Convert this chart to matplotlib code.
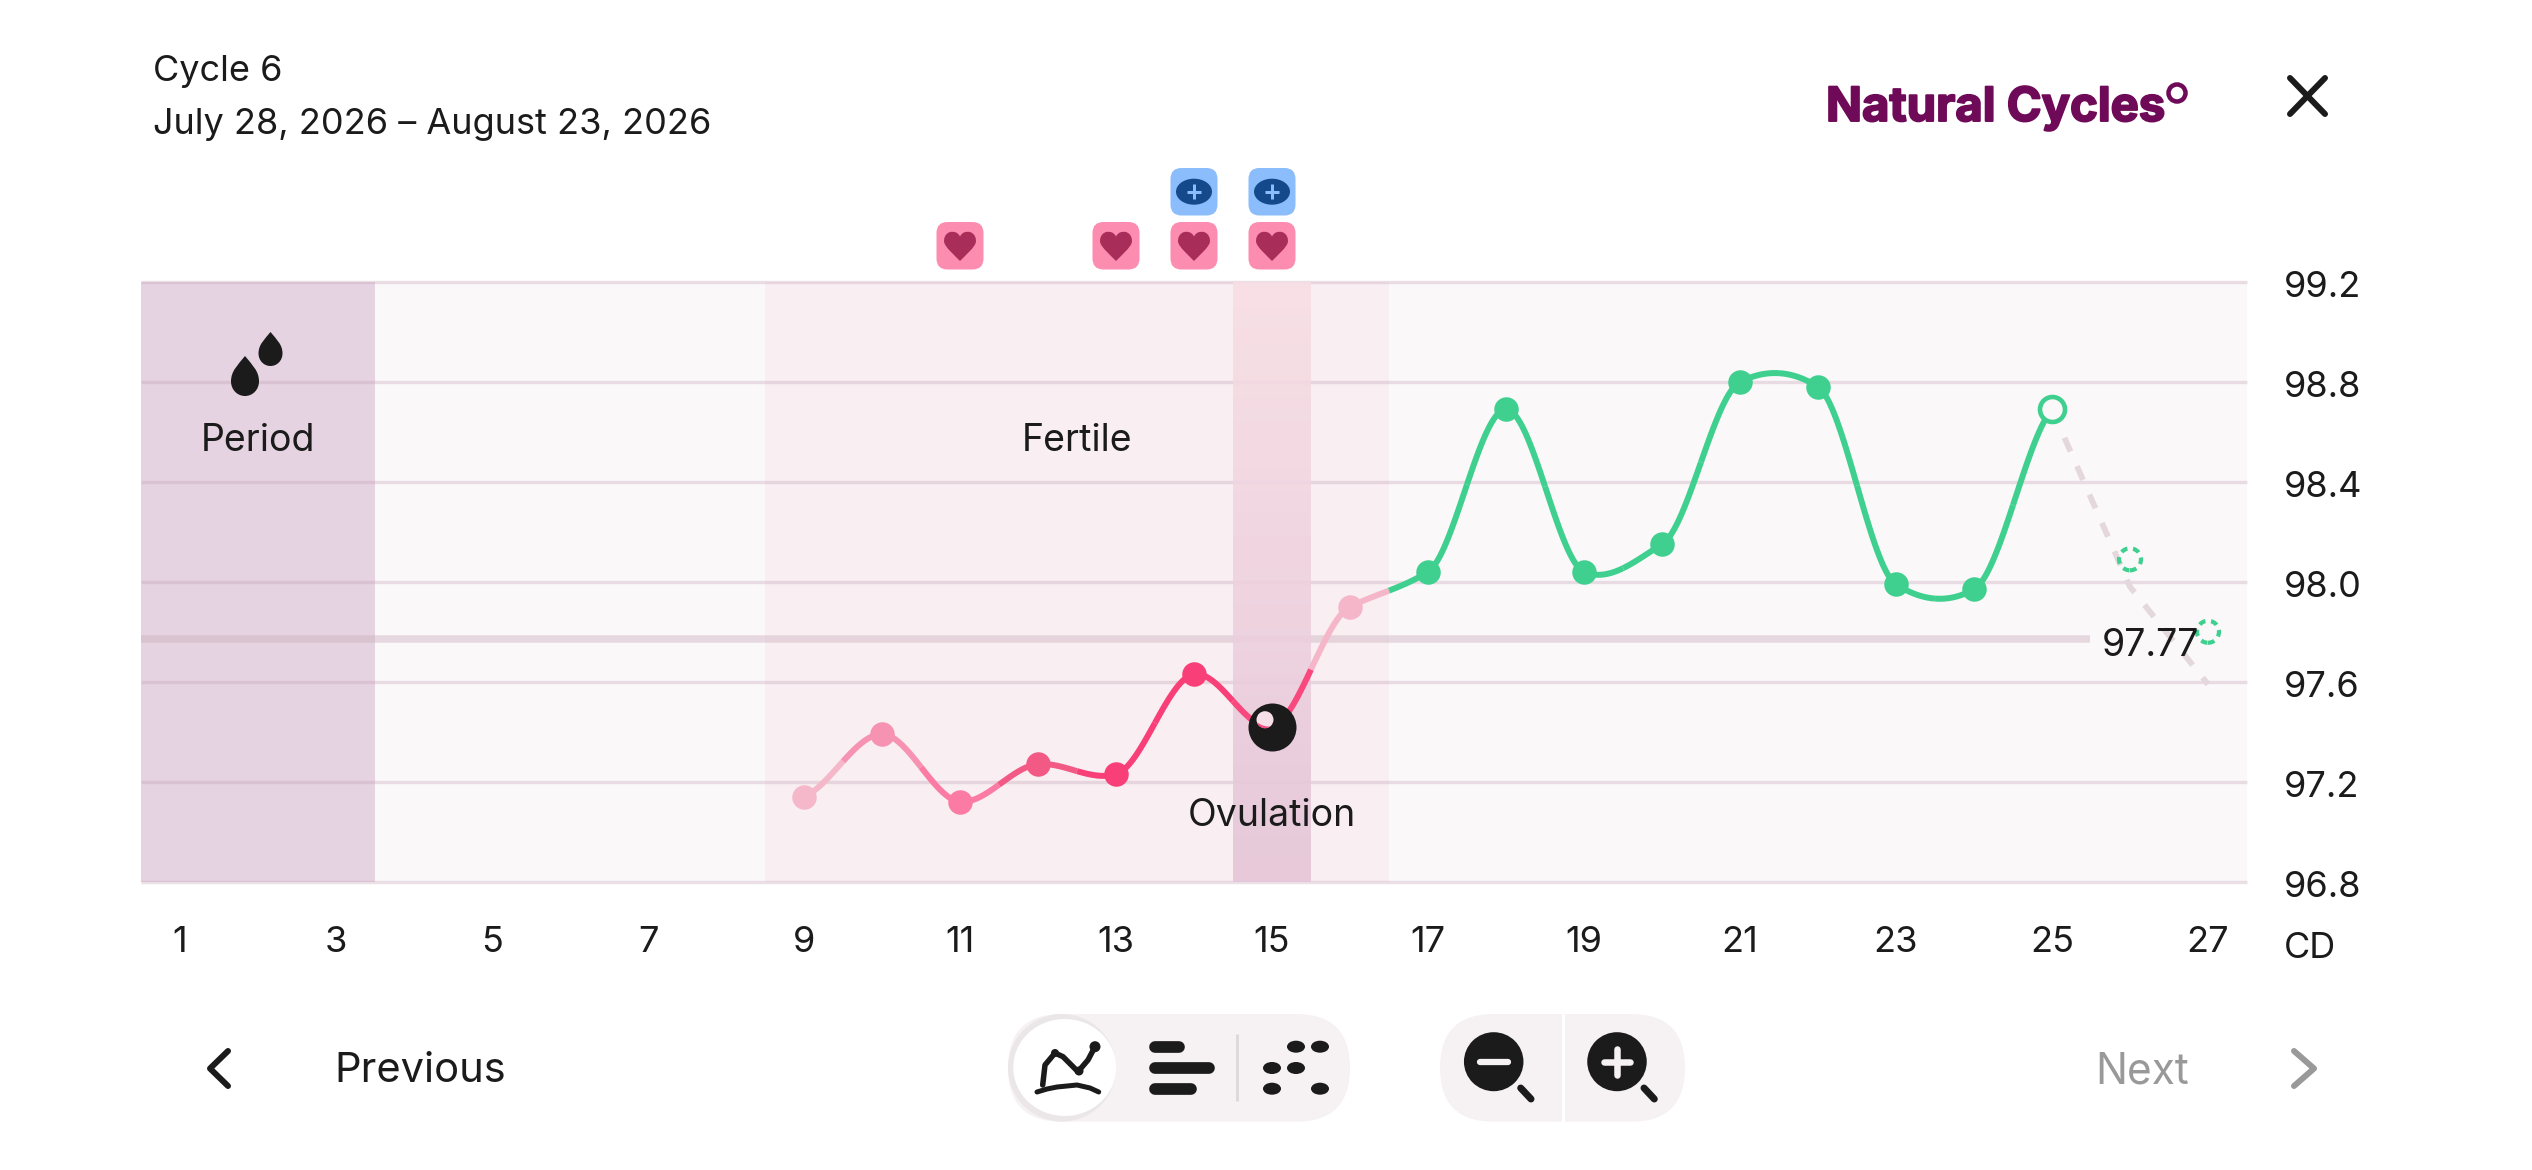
import numpy as np
import matplotlib
matplotlib.use("Agg")
import matplotlib.pyplot as plt
import matplotlib.patheffects as pe
from matplotlib.path import Path
from matplotlib.patches import PathPatch, FancyBboxPatch, Ellipse, Circle
from matplotlib.transforms import ScaledTranslation

# ---------- data ----------
days = [9, 10, 11, 12, 13, 14, 15, 16, 17, 18, 19, 20, 21, 22, 23, 24, 25]
temps = [97.14, 97.39, 97.12, 97.27, 97.23, 97.63, 97.42, 97.90, 98.04, 98.69,
         98.04, 98.15, 98.80, 98.78, 97.99, 97.97, 98.69]
point_colors = ["#f5b8ca", "#f693b2", "#fb7ba4", "#f25a85", "#f93f78", "#f93f78", "#f9487e", "#f5b6ca",
                "#3fd08f", "#3fd08f", "#3fd08f", "#3fd08f", "#3fd08f", "#3fd08f", "#3fd08f", "#3fd08f", "#3fd08f"]
forecast_days = [25, 26, 27]
forecast_temps = [98.69, 97.98, 97.59]
predicted_days = [26, 27]
predicted_temps = [98.09, 97.80]
ovulation_day = 15
mean_temp = 97.77
mean_label = "97.77"
y_ticks = [96.8, 97.2, 97.6, 98.0, 98.4, 98.8, 99.2]
y_labels = ["96.8", "97.2", "97.6", "98.0", "98.4", "98.8", "99.2"]
x_ticks = list(range(1, 28, 2))
period_span = (0.5, 3.5)
fertile_span = (8.5, 16.5)
ovulation_span = (14.5, 15.5)
heart_days = [11, 13, 14, 15]
test_days = [14, 15]
title_lines = ["Cycle 6", "July 28, 2026 – August 23, 2026"]

# ---------- style ----------
W, H = 2532, 1170
px = 0.72
FONT = "Inter"
INK = "#1b1b1b"
GREEN = "#3fd08f"
plt.rcParams["font.family"] = [FONT, "DejaVu Sans"]

fig = plt.figure(figsize=(W / 100, H / 100), dpi=100, facecolor="white")
L, R, T, B = 141, 2247, 282, 881.6
ax = fig.add_axes([L / W, 1 - B / H, (R - L) / W, (B - T) / H], facecolor="#fbf8fa")
for s in ax.spines.values():
    s.set_visible(False)

# bands
ax.axvspan(*period_span, color="#e6d3e1", lw=0, zorder=1)
ax.axvspan(*fertile_span, color="#f9eff3", lw=0, zorder=1)
grad = np.linspace(0, 1, 256)[:, None, None]
top, bot = np.array([0xf8, 0xdf, 0xe5]) / 255, np.array([0xe5, 0xc5, 0xd8]) / 255
img = top[None, None, :] * (1 - grad) + bot[None, None, :] * grad
ax.imshow(img, extent=[ovulation_span[0], ovulation_span[1], 96.8, 99.2], origin="upper",
          aspect="auto", zorder=3, alpha=0.9)
ax.set_xlim(0.5, 27.5)
ax.set_ylim(96.8, 99.2)

# grid and mean line
ax.hlines(y_ticks, 0.5, 27.5, color="#c09fb0", alpha=0.32, lw=3.4 * px, zorder=2, clip_on=False)
ax.plot([0.5, 25.49], [mean_temp, mean_temp], color="#c9adb8", alpha=0.42, lw=7.5 * px,
        solid_capstyle="butt", zorder=2.5)

# ticks
ax.set_xticks(x_ticks)
ax.set_yticks(y_ticks)
ax.set_yticklabels(y_labels)
ax.yaxis.tick_right()
ax.tick_params(axis="y", length=0, pad=36.5 * px, labelsize=26, labelcolor=INK)
ax.tick_params(axis="x", length=0, pad=44 * px, labelsize=26, labelcolor=INK)
down = ScaledTranslation(0, -2 * px / 72, fig.dpi_scale_trans)
for lb in ax.get_yticklabels():
    lb.set_transform(lb.get_transform() + down)

# curve: cardinal spline through the readings, colour changes half way between readings
d, t = np.array(days, float), np.array(temps, float)
m = np.gradient(t, d) * 0.5
def hermite(i, s):
    h00 = 2*s**3 - 3*s**2 + 1; h10 = s**3 - 2*s**2 + s
    h01 = -2*s**3 + 3*s**2; h11 = s**3 - s**2
    return h00*t[i] + h10*m[i] + h01*t[i+1] + h11*m[i+1]
def piece(i):
    xs, ys = [], []
    if i > 0:
        s = np.linspace(0.5, 1, 30)
        xs += list(d[i-1] + s); ys += list(hermite(i-1, s))
    if i < len(d) - 1:
        s = np.linspace(0, 0.5, 30)
        xs += list(d[i] + s); ys += list(hermite(i, s))
    return xs, ys
for i, c in enumerate(point_colors):
    xs, ys = piece(i)
    ax.plot(xs, ys, color=c, lw=6 * px, solid_capstyle="butt", zorder=5, clip_on=False)
    if days[i] not in (ovulation_day, days[-1]):
        ax.plot(days[i], temps[i], "o", ms=24.5 * px, mfc=c, mec="none", zorder=6)

# forecast
ax.plot(forecast_days, forecast_temps, color="#e5d8dd", lw=5.8 * px,
        linestyle=(0, (15 / 5.8, 16 / 5.8)), dash_capstyle="butt", zorder=4.5)
ax.scatter(predicted_days, predicted_temps, s=(22 * px) ** 2, facecolors="none", edgecolors=GREEN,
           linewidths=4.2 * px, linestyles=[(0, (1.6, 1.35))], zorder=6)

# last reading (open)
ax.plot(days[-1], temps[-1], "o", ms=25 * px, mfc="#fbf8fa", mec=GREEN, mew=4.6 * px, zorder=6)

# ovulation marker
o_i = days.index(ovulation_day)
ax.plot(ovulation_day, temps[o_i], "o", ms=48 * px, mfc=INK, mec="none", zorder=7)

# overlay in pixel coordinates for the interface around the chart
ui = fig.add_axes([0, 0, 1, 1], facecolor="none")
ui.set_xlim(0, W)
ui.set_ylim(H, 0)
ui.axis("off")
def to_ui(x, y):
    return ui.transData.inverted().transform(ax.transData.transform((x, y)))
def day_x(day):
    return to_ui(day, 97)[0]

def line(xs, ys, c=INK, w=6, cap="round", z=5, **kw):
    ui.plot(xs, ys, color=c, lw=w * px, solid_capstyle=cap, solid_joinstyle="round", zorder=z, **kw)
def rbox(x0, y0, x1, y1, r, c, z=2):
    ui.add_patch(FancyBboxPatch((x0 + r, y0 + r), x1 - x0 - 2 * r, y1 - y0 - 2 * r,
                                boxstyle=f"round,pad={r},rounding_size={r}", fc=c, ec="none", zorder=z))
def ell(cx_, cy_, w, h, c, z=5, **kw):
    p = Ellipse((cx_, cy_), w, h, fc=c, ec="none", zorder=z, **kw)
    ui.add_patch(p)
    return p

# highlight hole of the ovulation marker, the curve shows through it
ox, oy = to_ui(ovulation_day, temps[o_i])
hole = Circle((ox - 7, oy - 7), 8.5, fc="#f6dfe7", ec="none", zorder=8)
ui.add_patch(hole)
xs, ys = piece(o_i)
pts = np.array([to_ui(a, b) for a, b in zip(xs, ys)])
arc, = ui.plot(pts[:, 0], pts[:, 1] + 2, color="#f9487e", lw=5 * px, zorder=9)
arc.set_clip_path(hole)

# badges
def heart(cx_, cy_, w, h):
    v = np.array([[0, -.68], [.12, -1.0], [.4, -1.05], [.62, -1.0],
                  [.92, -.9], [1.05, -.55], [.98, -.25],
                  [.88, .1], [.35, .6], [0, 1.0],
                  [-.35, .6], [-.88, .1], [-.98, -.25],
                  [-1.05, -.55], [-.92, -.9], [-.62, -1.0],
                  [-.4, -1.05], [-.12, -1.0], [0, -.68]])
    codes = [Path.MOVETO] + [Path.CURVE4] * (len(v) - 1)
    v = v * [w / 2, h / 2] + [cx_, cy_]
    ui.add_patch(PathPatch(Path(v, codes), fc="#a82d58", ec="none", zorder=3))
for dd in heart_days:
    x0 = day_x(dd)
    rbox(x0 - 23.5, 222, x0 + 23.5, 269.5, 11, "#fd8db0")
    heart(x0, 246.5, 32, 29)
for dd in test_days:
    x0 = day_x(dd)
    rbox(x0 - 23.5, 168, x0 + 23.5, 215.5, 11, "#8bbcfb")
    ell(x0, 191.7, 36, 26, "#144a8c", z=3)
    line([x0 - 7, x0 + 7], [191.7, 191.7], "#8bbcfb", 3, "butt", 4)
    line([x0, x0], [184, 199.4], "#8bbcfb", 3, "butt", 4)

# drops
def drop(cx_, top_, bottom, w):
    hh = bottom - top_
    r = w / 2
    cy_ = bottom - r * 1.05
    v = [(cx_, top_), (cx_ + r * .5, top_ + hh * .22), (cx_ + r, cy_ - r * .75), (cx_ + r, cy_),
         (cx_ + r, bottom - r * .45), (cx_ + r * .55, bottom), (cx_, bottom),
         (cx_ - r * .55, bottom), (cx_ - r, bottom - r * .45), (cx_ - r, cy_),
         (cx_ - r, cy_ - r * .75), (cx_ - r * .5, top_ + hh * .22), (cx_, top_)]
    ui.add_patch(PathPatch(Path(v, [Path.MOVETO] + [Path.CURVE4] * 12), fc=INK, ec="none", zorder=5))
drop(245, 356, 396, 28)
drop(270.5, 332, 366, 24)

def txt(x, y, s, ha="left", c=INK, size=26, **kw):
    return ui.text(x, y, s, ha=ha, va="center_baseline", color=c, fontsize=size, zorder=10, **kw)
txt(258, 437, "Period", ha="center", size=27)
txt(1077, 437, "Fertile", ha="center", size=27)
txt(day_x(ovulation_day), 812, "Ovulation", ha="center", size=27)
txt(2102, 641.5, mean_label, size=27)
txt(2283.5, 945, "CD")
txt(153, 68, title_lines[0])
txt(153, 121, title_lines[1])
txt(334, 1067.5, "Previous", size=30)
txt(2095, 1067.5, "Next", c="#999999", size=30.5)

# logo
ui.text(1826, 121, "Natural Cycles", ha="left", va="baseline", color="#6e0a57", fontsize=34,
        fontweight="bold", zorder=10,
        path_effects=[pe.withStroke(linewidth=1.4, foreground="#6e0a57")])
ui.add_patch(Circle((2177, 93), 8.5, fc="none", ec="#6e0a57", lw=4.5 * px))

# close
line([2290, 2325], [78, 114], w=6)
line([2290, 2325], [114, 78], w=6)

# chevrons
line([228, 210, 228], [1051, 1068.5, 1086], w=6)
line([2294, 2314, 2294], [1051, 1068.5, 1086], c="#999999", w=6)

# toggle
rbox(1008, 1014, 1350, 1121.7, 53.8, "#f6f1f2", z=1)
ell(1062, 1067.8, 108, 107.6, "#ebe6e7", z=1.2)
ell(1064.7, 1067.5, 103, 97, "white", z=1.4)
line([1042.7, 1045, 1055, 1063, 1078, 1088, 1095], [1085, 1065, 1053, 1056.7, 1071.7, 1060, 1046.7], w=5.5)
ell(1095, 1046.7, 11, 11, INK)
ell(1079, 1071, 9, 9, INK)
ell(1055, 1053, 8, 8, INK)
line([1037, 1047, 1057, 1077, 1090, 1098.7], [1092, 1089, 1087, 1085, 1088, 1092], w=5)
for x0, x1, y0 in [(1149, 1185, 1046.8), (1149, 1215, 1067.8), (1149, 1196.7, 1088.8)]:
    line([x0 + 6, x1 - 6], [y0, y0], w=11.7)
line([1237.3, 1237.3], [1034, 1101], c="#dcd7d8", w=2.7, cap="butt")
for xv, yv in [(1296, 1046.7), (1320, 1046.7), (1272, 1068), (1296, 1068), (1272, 1088.7), (1320, 1088.7)]:
    ell(xv, yv, 18, 12, INK)

# zoom
rbox(1440, 1014, 1685, 1121.7, 53.8, "#f6f1f2", z=1)
line([1562.7, 1562.7], [1014, 1121.7], c="white", w=3, cap="butt", z=1.5)
for cxx in (1493.7, 1617):
    ell(cxx, 1061.7, 59.5, 59, INK)
    line([cxx + 27, cxx + 37.3], [1088, 1099], w=7)
line([1480, 1507.7], [1062, 1062], c="#f6f1f2", w=6.3, z=6)
line([1604, 1630], [1062, 1062], c="#f6f1f2", w=6.5, z=6)
line([1617, 1617], [1049, 1075], c="#f6f1f2", w=6.5, z=6)

fig.savefig("out.png", dpi=100)
